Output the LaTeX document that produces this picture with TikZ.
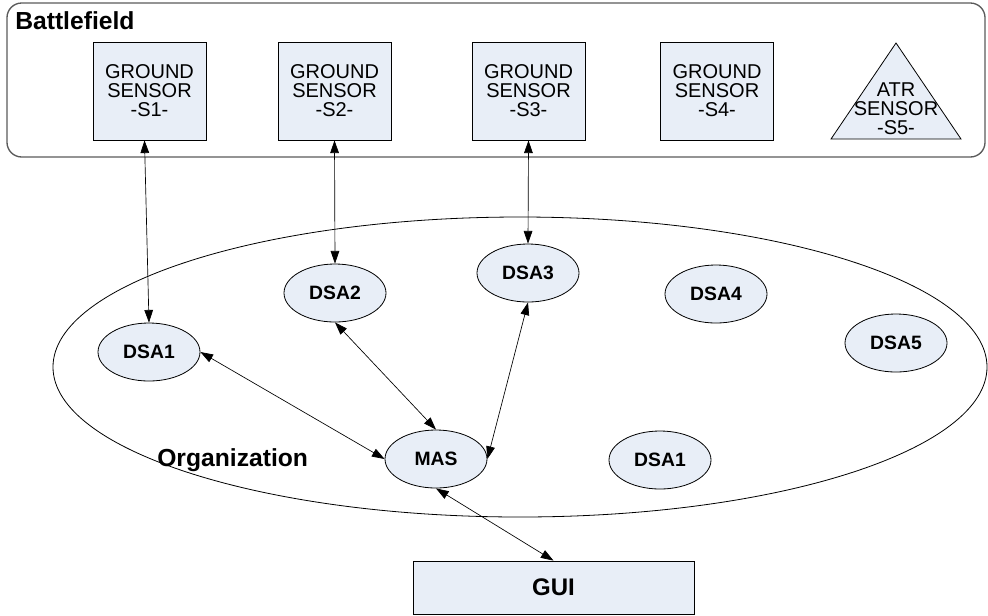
\documentclass[tikz,border=0pt]{standalone}
\usepackage{fontspec}
\setmainfont{Liberation Sans}
\usetikzlibrary{arrows.meta,shapes.geometric}
\definecolor{agentfill}{HTML}{E8EEF7}
\definecolor{fieldgray}{HTML}{5A5A5A}

\begin{document}
\begin{tikzpicture}[x=0.75pt,y=-0.75pt,
    snsr/.style={draw, line width=0.6pt, fill=agentfill, minimum width=84.75pt, minimum height=73.5pt, align=center, inner sep=0pt, font=\fontsize{15}{14.3}\selectfont},
    agt/.style={draw, line width=0.6pt, ellipse, fill=agentfill, minimum width=76.5pt, minimum height=43.5pt, inner sep=0pt, font=\fontsize{14.5}{16}\selectfont\bfseries},
    arr/.style={{Triangle[length=9.5pt,width=6.5pt]}-{Triangle[length=9.5pt,width=6.5pt]}, line width=0.5pt},
    ttl/.style={font=\fontsize{18.5}{20}\selectfont\bfseries, inner sep=0pt, anchor=base west}
]
\useasboundingbox (0,0) rectangle (988,615);

% battlefield
\node[draw=fieldgray, line width=1pt, rounded corners=11pt, minimum width=733.5pt, minimum height=115.5pt] (field) at (496,80) {};
\node[ttl] (fieldlbl) at (15,29) {Battlefield};

\node[snsr] (s1) at (149.5,91) {GROUND\\SENSOR\\-S1-};
\node[snsr] (s2) at (334.5,91) {GROUND\\SENSOR\\-S2-};
\node[snsr] (s3) at (528.5,91) {GROUND\\SENSOR\\-S3-};
\node[snsr] (s4) at (717,91) {GROUND\\SENSOR\\-S4-};
\draw[line width=0.6pt, fill=agentfill] (831,139) coordinate (t1) -- (896,43) coordinate (t2) -- (961,139) coordinate (t3) -- cycle;
\node[align=center, inner sep=0pt, font=\fontsize{15}{14.3}\selectfont] (s5) at (896,109) {ATR\\SENSOR\\-S5-};

% organization
\node[draw, line width=0.6pt, ellipse, minimum width=700.5pt, minimum height=225pt, inner sep=0pt] (org) at (520,367) {};
\node[ttl] (orglbl) at (157,466) {Organization};

\node[agt] (dsa1) at (149,352) {DSA1};
\node[agt] (dsa2) at (335,293) {DSA2};
\node[agt] (dsa3) at (528,273) {DSA3};
\node[agt] (dsa4) at (716,294) {DSA4};
\node[agt] (dsa5) at (896,343) {DSA5};
\node[agt] (mas) at (436,459) {MAS};
\node[agt] (dsa1b) at (660,460) {DSA1};

\node[draw, line width=0.6pt, fill=agentfill, minimum width=210.75pt, minimum height=39.75pt, font=\fontsize{18}{20}\selectfont\bfseries] (gui) at (553.5,587.5) {GUI};

\draw[arr] ([xshift=-3.75pt]s1.south) -- (dsa1.north);
\draw[arr] (s2.south) -- (dsa2.north);
\draw[arr] (s3.south) -- (dsa3.north);
\draw[arr] (dsa1.east) -- (mas.west);
\draw[arr] (dsa2.south) -- (mas.north);
\draw[arr] (dsa3.south) -- (mas.east);
\draw[arr] (mas.south) -- (gui.north);
\end{tikzpicture}
\end{document}
